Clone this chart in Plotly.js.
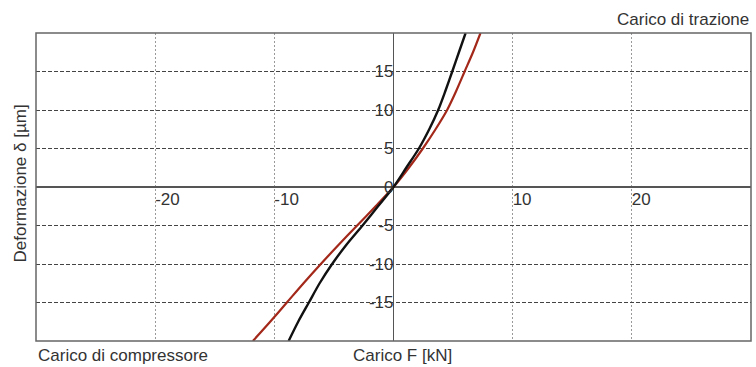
<!DOCTYPE html>
<html>
<head>
<meta charset="utf-8">
<script src="https://cdn.plot.ly/plotly-3.0.1.min.js"></script>
<style>html,body{margin:0;padding:0;background:#fff}#chart{width:756px;height:367px}</style>
</head>
<body>
<div id="chart"></div>
<script>
// Data
const deformY = [-20, -17.5, -15, -12.5, -10, -7.5, -5, -2.5, 0, 2.5, 5, 7.5, 10, 12.5, 15, 17.5, 20];
const blackLoadX = [-8.8, -8.0, -7.1, -6.2, -5.15, -3.95, -2.6, -1.3, 0, 1.07, 2.13, 3.0, 3.75, 4.36, 4.93, 5.49, 6.05];
const redLoadX = [-11.8, -10.35, -8.95, -7.55, -6.1, -4.6, -3.05, -1.5, 0, 1.29, 2.46, 3.53, 4.5, 5.27, 5.97, 6.67, 7.3];
const xTickVals = [-20, -10, 10, 20];
const xTickText = ['-20', '-10', '10', '20'];
const yTickVals = [-15, -10, -5, 0, 5, 10, 15];
const yTickText = ['-15', '-10', '-5', '0', '5', '10', '15'];

const font = {family: 'Liberation Sans, Arial, sans-serif', size: 17, color: '#333'};

const traces = [
  {x: redLoadX, y: deformY, mode: 'lines', line: {color: '#a3281a', width: 2.2, shape: 'spline', smoothing: 0.8}, showlegend: false, hoverinfo: 'skip'},
  {x: blackLoadX, y: deformY, mode: 'lines', line: {color: '#111', width: 2.4, shape: 'spline', smoothing: 0.8}, showlegend: false, hoverinfo: 'skip'}
];

const layout = {
  width: 756, height: 367,
  margin: {l: 36, r: 5, t: 33, b: 26},
  paper_bgcolor: '#fff', plot_bgcolor: '#fff',
  font: font,
  xaxis: {
    range: [-30, 30], anchor: 'free', position: 0.5,
    tickvals: xTickVals, ticktext: xTickText,
    ticklabelposition: 'outside right', ticks: '',
    showgrid: true, gridcolor: '#999', griddash: '2px,2px', gridwidth: 1,
    zeroline: true, zerolinecolor: '#555', zerolinewidth: 1.2,
    showline: false, tickfont: font
  },
  yaxis: {
    range: [-20, 20], anchor: 'free', position: 0.5,
    tickvals: yTickVals, ticktext: yTickText, ticks: '',
    showgrid: true, gridcolor: '#444', griddash: '4px,2px', gridwidth: 1,
    zeroline: true, zerolinecolor: '#555', zerolinewidth: 1.2,
    showline: false, tickfont: font
  },
  shapes: [
    {type: 'rect', xref: 'paper', yref: 'paper', x0: 0, x1: 1, y0: 0, y1: 1, line: {color: '#666', width: 1.5}, layer: 'above'}
  ],
  annotations: [
    {text: 'Carico di trazione', xref: 'paper', yref: 'paper', x: 1, y: 1, xanchor: 'right', yanchor: 'bottom', yshift: 2, showarrow: false, font: font},
    {text: 'Carico di compressore', xref: 'paper', yref: 'paper', x: 0, y: 0, xanchor: 'left', yanchor: 'top', yshift: -3, showarrow: false, font: font},
    {text: 'Carico F [kN]', xref: 'paper', yref: 'paper', x: 0.5, y: 0, xanchor: 'center', yanchor: 'top', xshift: 9, yshift: -3, showarrow: false, font: font},
    {text: 'Deformazione δ [µm]', xref: 'paper', yref: 'paper', x: 0, y: 0.5, xanchor: 'right', yanchor: 'middle', xshift: -5, yshift: 4, textangle: -90, showarrow: false, font: font}
  ]
};

Plotly.newPlot('chart', traces, layout, {staticPlot: true, displayModeBar: false});
</script>
</body>
</html>
